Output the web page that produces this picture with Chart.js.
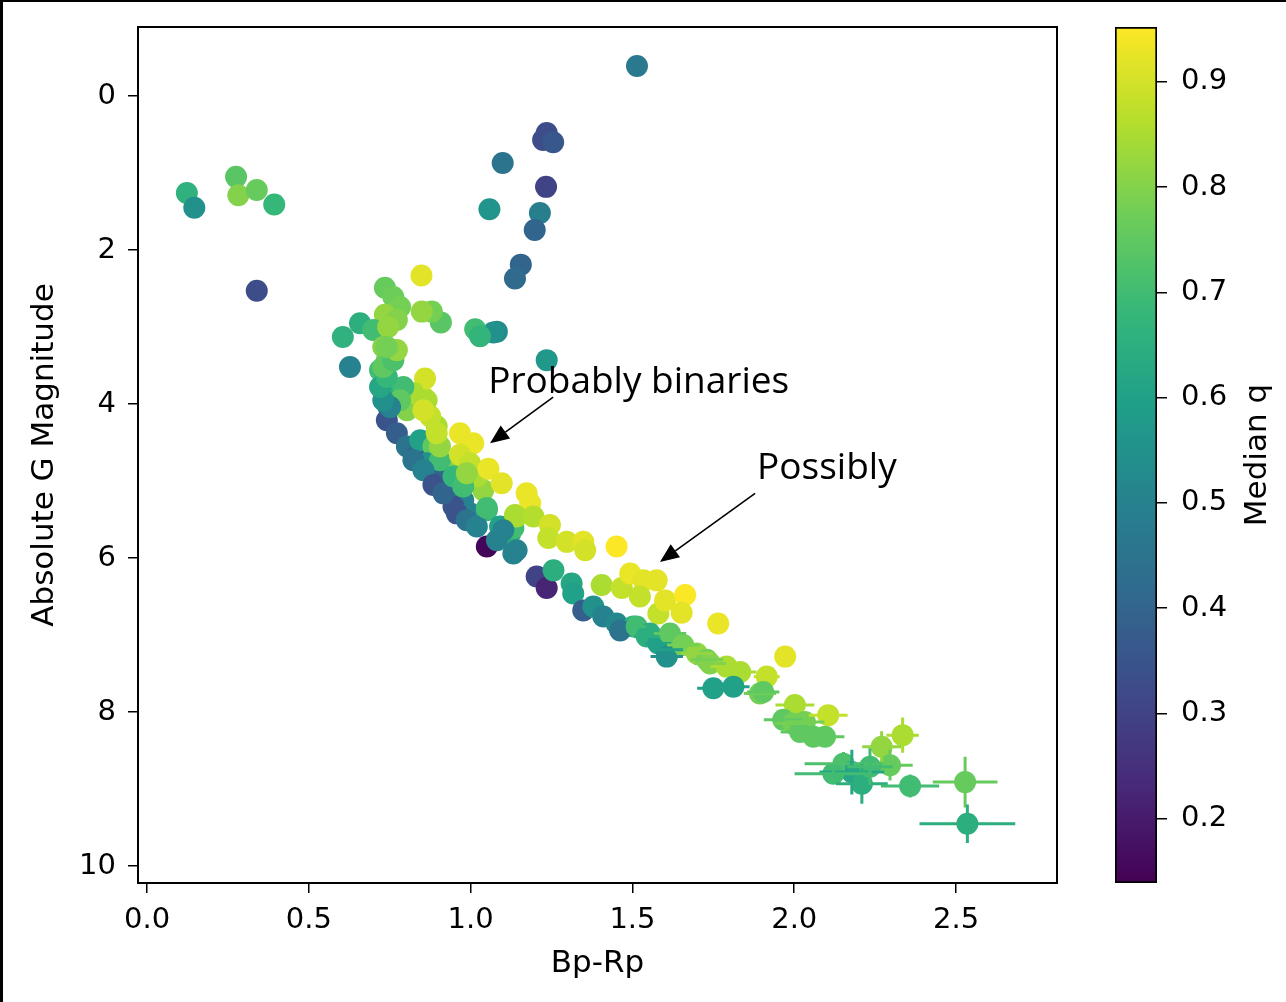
<!DOCTYPE html>
<html><head><meta charset="utf-8">
<script src="https://cdn.jsdelivr.net/npm/chart.js@4.4.0/dist/chart.umd.min.js"></script>
<style>
html,body{margin:0;padding:0;background:#fff;width:1286px;height:1002px;overflow:hidden;}
#main{position:absolute;left:0;top:0;}
#cbar{position:absolute;left:1080px;top:0;}
.edge{position:absolute;background:#000;}
</style></head><body>
<canvas id="main" width="1286" height="1002"></canvas>
<canvas id="cbar" width="206" height="1002"></canvas>
<div class="edge" style="left:0;top:0;width:1286px;height:2px"></div>
<div class="edge" style="left:0;top:0;width:3px;height:1002px"></div>
<script>
// ---------------- data ----------------
const bpRp = [
  1.514,1.235,1.224,1.255,1.099,1.233,1.058,1.214,1.198,1.155,1.137,1.235,1.081,1.070,1.014,1.029,0.908,0.880,0.849,0.848,
  0.123,0.146,0.275,0.282,0.339,0.393,0.339,
  0.735,0.761,0.782,0.735,0.772,0.658,0.605,0.627,0.699,0.745,0.730,0.760,0.720,0.741,0.859,0.725,0.772,0.828,0.854,0.746,0.803,
  0.741,0.772,0.803,0.833,0.844,0.885,0.864,0.895,0.926,0.967,0.977,0.947,0.998,1.050,1.091,1.122,1.142,1.050,1.039,1.019,0.967,0.905,0.895,0.875,0.864,0.823,0.792,0.782,0.751,0.730,0.720,0.741,0.730,0.761,0.772,0.741,
  0.823,0.854,0.885,0.916,0.957,0.988,1.019,1.081,0.947,0.977,0.905,0.895,0.967,1.008,0.967,0.998,1.055,1.096,0.988,1.050,1.137,1.132,0.854,
  1.173,1.184,1.142,1.194,1.245,1.240,1.297,1.348,1.354,1.451,1.132,1.101,1.204,1.235,1.256,1.312,1.317,1.348,1.379,1.410,1.451,1.503,1.405,1.467,1.493,1.534,1.575,1.523,1.580,1.601,1.663,1.652,1.765,1.972,
  1.462,1.513,1.544,1.554,1.580,1.606,1.616,1.606,1.657,1.699,1.730,1.740,1.791,1.833,1.915,1.750,1.812,1.894,1.904,2.002,2.105,1.966,1.997,2.033,2.018,2.059,2.095,
  2.335,2.270,2.296,2.152,2.178,2.209,2.234,2.358,2.528,2.535,2.121
];
const absG = [
  -0.39,0.48,0.57,0.60,0.87,1.18,1.47,1.52,1.74,2.19,2.37,3.43,3.06,3.07,3.03,3.12,2.94,2.80,2.80,2.33,
  1.26,1.45,1.05,1.29,1.22,1.41,2.53,
  2.49,2.61,2.74,2.84,2.91,2.95,3.13,3.52,3.04,3.00,3.26,3.34,3.56,3.43,3.67,3.78,3.86,3.86,3.91,4.04,4.08,
  4.21,4.38,4.55,4.68,4.47,4.55,4.77,4.94,5.07,5.12,5.25,5.33,5.42,5.38,5.59,5.68,5.90,5.85,5.12,4.94,4.77,4.73,4.29,4.16,3.95,3.86,3.78,3.95,4.04,3.95,3.78,3.65,3.52,3.43,3.30,3.26,
  4.73,4.86,5.05,5.16,5.42,5.51,5.59,5.77,4.94,5.07,4.55,4.38,4.38,4.51,4.66,4.77,4.84,5.03,4.90,5.35,5.44,5.61,4.08,
  5.16,5.29,5.46,5.46,5.57,5.74,5.79,5.79,5.90,5.85,5.94,5.64,6.24,6.39,6.16,6.33,6.46,6.68,6.63,6.76,6.85,6.89,6.35,6.39,6.20,6.29,6.29,6.50,6.72,6.55,6.48,6.71,6.85,7.28,
  6.94,6.89,7.02,6.98,7.11,7.19,6.98,7.28,7.13,7.24,7.32,7.37,7.41,7.48,7.54,7.69,7.67,7.76,7.74,7.91,8.04,8.10,8.15,8.13,8.26,8.32,8.32,
  8.30,8.45,8.69,8.67,8.78,8.93,8.71,8.96,8.91,9.45,8.80
];
const medianQ = [
  0.47,0.33,0.33,0.36,0.45,0.30,0.56,0.49,0.40,0.40,0.42,0.57,0.53,0.55,0.70,0.67,0.74,0.78,0.82,0.92,
  0.66,0.55,0.74,0.80,0.76,0.68,0.33,
  0.76,0.77,0.78,0.82,0.80,0.65,0.66,0.50,0.70,0.82,0.80,0.80,0.70,0.78,0.90,0.60,0.65,0.88,0.90,0.45,0.80,
  0.35,0.38,0.45,0.40,0.60,0.75,0.55,0.40,0.45,0.55,0.50,0.35,0.50,0.68,0.60,0.65,0.50,0.15,0.82,0.85,0.80,0.70,0.85,0.88,0.85,0.85,0.70,0.75,0.50,0.55,0.62,0.68,0.75,0.72,0.82,0.78,
  0.45,0.50,0.35,0.40,0.35,0.45,0.50,0.50,0.68,0.70,0.82,0.88,0.93,0.93,0.90,0.88,0.93,0.92,0.82,0.70,0.85,0.70,0.90,
  0.93,0.93,0.85,0.86,0.90,0.88,0.90,0.92,0.90,0.95,0.50,0.50,0.30,0.22,0.65,0.62,0.60,0.38,0.55,0.50,0.52,0.65,0.85,0.88,0.93,0.92,0.92,0.88,0.88,0.92,0.95,0.92,0.93,0.92,
  0.45,0.70,0.65,0.65,0.60,0.60,0.75,0.55,0.78,0.82,0.78,0.80,0.85,0.85,0.88,0.60,0.60,0.78,0.75,0.85,0.88,0.75,0.78,0.78,0.75,0.75,0.75,
  0.85,0.82,0.76,0.72,0.62,0.65,0.70,0.70,0.76,0.65,0.70
];
// error bars (0 = none / hidden behind marker)
const errBpRp = [
  0,0,0,0,0,0,0,0,0,0,0,0,0,0,0,0,0,0,0,0,
  0,0,0,0,0,0,0,
  0,0,0,0,0,0,0,0,0,0,0,0,0,0,0,0,0,0,0,0,0,
  0,0,0,0,0,0,0,0,0,0,0,0,0,0,0,0,0,0,0,0,0,0,0,0,0,0,0,0,0,0,0,0,0,0,0,0,
  0,0,0,0,0,0,0,0,0,0,0,0,0,0,0,0,0,0,0,0,0,0,0,
  0,0,0,0,0,0,0,0,0,0,0,0,0,0,0,0,0,0,0,0,0,0,0,0,0,0,0,0,0,0,0,0,0,0,
  0,0.03,0.04,0.04,0.04,0.05,0.05,0.05,0.05,0.05,0.05,0.05,0.05,0.05,0.04,0.05,0.05,0.05,0.05,0.06,0.06,0.06,0.06,0.06,0.06,0.06,0.06,
  0.05,0.06,0.07,0.12,0.10,0.08,0.07,0.09,0.10,0.148,0.12
];
const errG = [
  0,0,0,0,0,0,0,0,0,0,0,0,0,0,0,0,0,0,0,0,
  0,0,0,0,0,0,0,
  0,0,0,0,0,0,0,0,0,0,0,0,0,0,0,0,0,0,0,0,0,
  0,0,0,0,0,0,0,0,0,0,0,0,0,0,0,0,0,0,0,0,0,0,0,0,0,0,0,0,0,0,0,0,0,0,0,0,
  0,0,0,0,0,0,0,0,0,0,0,0,0,0,0,0,0,0,0,0,0,0,0,
  0,0,0,0,0,0,0,0,0,0,0,0,0,0,0,0,0,0,0,0,0,0,0,0,0,0,0,0,0,0,0,0,0,0,
  0,0,0,0,0,0,0,0,0,0,0,0,0,0,0,0,0,0,0,0,0,0,0,0,0,0,0,
  0.23,0.20,0.20,0.15,0.29,0.26,0.24,0.15,0.33,0.25,0.10
];
const xTicks = [0.0, 0.5, 1.0, 1.5, 2.0, 2.5];
const yTicks = [0, 2, 4, 6, 8, 10];
const qTicks = [0.2, 0.3, 0.4, 0.5, 0.6, 0.7, 0.8, 0.9];
const qMin = 0.139, qMax = 0.952;
const xMin = -0.028, xMax = 2.812;
const yMin = -0.896, yMax = 10.22;
const notes = [
  {label: 'Probably binaries', textAt: [1.054, 3.857], tail: [1.255, 3.91], head: [1.060, 4.51]},
  {label: 'Possibly',          textAt: [1.885, 4.974], tail: [1.879, 5.16], head: [1.585, 6.05]}
];

// ---------------- colour map ----------------
const VIRIDIS = ['#440154','#482878','#3e4a89','#31688e','#26828e','#1f9e89','#35b779','#6dcd59','#b4de2c','#fde725'];
function hexRGB(h){return [1,3,5].map(i=>parseInt(h.substr(i,2),16));}
function viridis(t){
  t = Math.min(1, Math.max(0, t));
  const n = VIRIDIS.length - 1, f = t * n, i = Math.min(n - 1, Math.floor(f)), u = f - i;
  const a = hexRGB(VIRIDIS[i]), b = hexRGB(VIRIDIS[i + 1]);
  const c = a.map((v, k) => Math.round(v + (b[k] - v) * u));
  return `rgb(${c[0]},${c[1]},${c[2]})`;
}
const pointColors = medianQ.map(q => viridis((q - qMin) / (qMax - qMin)));

const TICK_FONT = {family: 'DejaVu Sans', size: 29};
const TITLE_FONT = {family: 'DejaVu Sans', size: 31};

// ---------------- plugins ----------------
const errorBarPlugin = {
  id: 'errorBars',
  afterDatasetsDraw(chart) {
    const {ctx, scales: {x, y}} = chart;
    ctx.save();
    ctx.lineWidth = 3;
    bpRp.forEach((v, i) => {
      const ex = errBpRp[i], ey = errG[i];
      if (!ex && !ey) return;
      const cx = x.getPixelForValue(v), cy = y.getPixelForValue(absG[i]);
      ctx.strokeStyle = pointColors[i];
      ctx.beginPath();
      if (ex) { ctx.moveTo(x.getPixelForValue(v - ex), cy); ctx.lineTo(x.getPixelForValue(v + ex), cy); }
      if (ey) { ctx.moveTo(cx, y.getPixelForValue(absG[i] - ey)); ctx.lineTo(cx, y.getPixelForValue(absG[i] + ey)); }
      ctx.stroke();
    });
    ctx.restore();
  }
};
const framePlugin = {
  id: 'frame',
  afterDraw(chart) {
    const {ctx, chartArea: a} = chart;
    ctx.save();
    ctx.strokeStyle = '#000';
    ctx.lineWidth = 2;
    ctx.strokeRect(a.left, a.top, a.right - a.left, a.bottom - a.top);
    ctx.restore();
  }
};
const notePlugin = {
  id: 'notes',
  afterDraw(chart) {
    const {ctx, scales: {x, y}} = chart;
    ctx.save();
    ctx.fillStyle = '#000';
    ctx.strokeStyle = '#000';
    ctx.font = '37px "Open Sans"';
    ctx.textAlign = 'left';
    ctx.textBaseline = 'alphabetic';
    notes.forEach(n => {
      ctx.fillText(n.label, x.getPixelForValue(n.textAt[0]), y.getPixelForValue(n.textAt[1]));
      const x0 = x.getPixelForValue(n.tail[0]), y0 = y.getPixelForValue(n.tail[1]);
      const x1 = x.getPixelForValue(n.head[0]), y1 = y.getPixelForValue(n.head[1]);
      const ang = Math.atan2(y1 - y0, x1 - x0), hl = 19, hw = 8;
      const bx = x1 - hl * Math.cos(ang), by = y1 - hl * Math.sin(ang);
      ctx.lineWidth = 1.6;
      ctx.beginPath(); ctx.moveTo(x0, y0); ctx.lineTo(bx, by); ctx.stroke();
      ctx.beginPath();
      ctx.moveTo(x1, y1);
      ctx.lineTo(bx + hw * Math.sin(ang), by - hw * Math.cos(ang));
      ctx.lineTo(bx - hw * Math.sin(ang), by + hw * Math.cos(ang));
      ctx.closePath(); ctx.fill();
    });
    ctx.restore();
  }
};
const cbTitlePlugin = {
  id: 'cbTitle',
  afterDraw(chart) {
    const {ctx, chartArea: a} = chart;
    ctx.save();
    ctx.fillStyle = '#000';
    ctx.font = '31px "DejaVu Sans"';
    ctx.textAlign = 'center';
    ctx.textBaseline = 'middle';
    ctx.translate(178, (a.top + a.bottom) / 2);
    ctx.rotate(-Math.PI / 2);
    ctx.fillText('Median q', 0, 0);
    ctx.restore();
  }
};
const noVPad = s => { s.paddingTop = 0; s.paddingBottom = 0; };
const noHPad = s => { s.paddingLeft = 0; s.paddingRight = 0; };

// ---------------- main scatter ----------------
new Chart(document.getElementById('main'), {
  type: 'scatter',
  data: {
    datasets: [{
      data: bpRp.map((v, i) => ({x: v, y: absG[i]})),
      pointBackgroundColor: pointColors,
      pointBorderWidth: 0,
      pointRadius: 11,
      pointHoverRadius: 11
    }]
  },
  options: {
    responsive: false, animation: false, events: [],
    layout: {padding: {top: 27, right: 229, left: 0, bottom: 0}},
    plugins: {legend: {display: false}, tooltip: {enabled: false}},
    scales: {
      x: {
        type: 'linear', min: xMin, max: xMax,
        afterBuildTicks: s => { s.ticks = xTicks.map(v => ({value: v})); },
        afterFit: s => { s.height = 119; noHPad(s); },
        ticks: {font: TICK_FONT, color: '#000', padding: 10, callback: v => Number(v).toFixed(1)},
        grid: {drawOnChartArea: false, drawTicks: true, tickLength: 10, color: '#000', lineWidth: 1.5},
        border: {display: false},
        title: {display: true, text: 'Bp-Rp', font: TITLE_FONT, color: '#000', padding: {top: 0, bottom: 19}}
      },
      y: {
        type: 'linear', reverse: true, min: yMin, max: yMax,
        afterBuildTicks: s => { s.ticks = yTicks.map(v => ({value: v})); },
        afterFit: s => { s.width = 138; noVPad(s); },
        ticks: {font: TICK_FONT, color: '#000', padding: 12, callback: v => String(v)},
        grid: {drawOnChartArea: false, drawTicks: true, tickLength: 10, color: '#000', lineWidth: 1.5},
        border: {display: false},
        title: {display: true, text: 'Absolute G Magnitude', font: TITLE_FONT, color: '#000', padding: {top: 26, bottom: 0}}
      }
    }
  },
  plugins: [errorBarPlugin, framePlugin, notePlugin]
});

// ---------------- colour bar ----------------
new Chart(document.getElementById('cbar'), {
  type: 'bar',
  data: {
    labels: ['q'],
    datasets: [{
      data: [[qMin, qMax]],
      backgroundColor: ctx => {
        const c = ctx.chart, s = c.scales.y;
        if (!c.chartArea || !s) return '#888';
        const g = c.ctx.createLinearGradient(0, s.getPixelForValue(qMin), 0, s.getPixelForValue(qMax));
        VIRIDIS.forEach((col, i) => g.addColorStop(i / (VIRIDIS.length - 1), col));
        return g;
      },
      borderColor: '#000', borderWidth: 2, borderSkipped: false,
      barPercentage: 1, categoryPercentage: 1
    }]
  },
  options: {
    responsive: false, animation: false, events: [],
    layout: {padding: {left: 35, top: 27, bottom: 119, right: 0}},
    plugins: {legend: {display: false}, tooltip: {enabled: false}},
    scales: {
      x: {display: false},
      y: {
        position: 'right', min: qMin, max: qMax,
        afterBuildTicks: s => { s.ticks = qTicks.map(v => ({value: v})); },
        afterFit: s => { s.width = 129; noVPad(s); },
        ticks: {font: TICK_FONT, color: '#000', padding: 14, callback: v => Number(v).toFixed(1)},
        grid: {drawOnChartArea: false, drawTicks: true, tickLength: 10, color: '#000', lineWidth: 1.5},
        border: {display: false}
      }
    }
  },
  plugins: [cbTitlePlugin]
});
</script>
</body></html>
